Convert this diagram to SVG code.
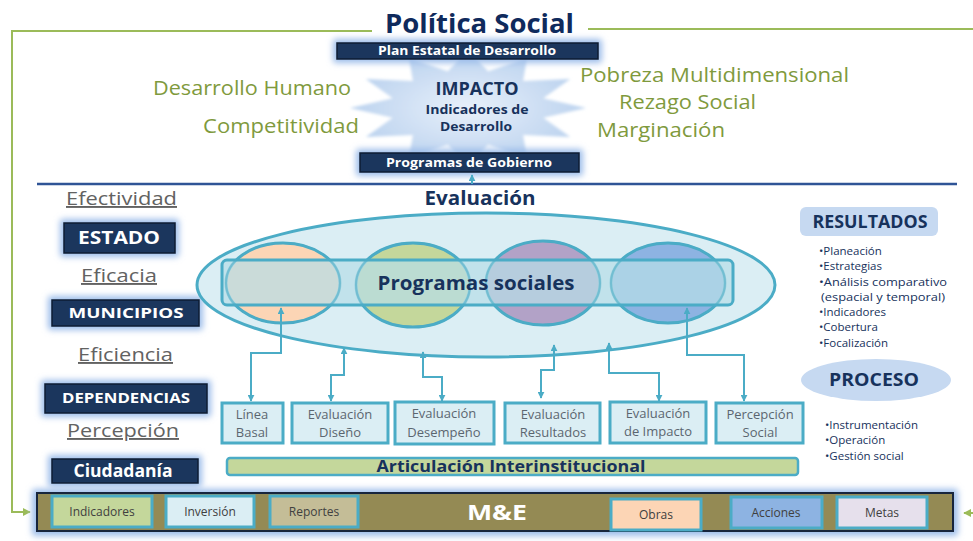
<svg xmlns="http://www.w3.org/2000/svg" width="973" height="541" viewBox="0 0 973 541">
<style>
text{font-family:"Open Sans","Liberation Sans",sans-serif}
.green{fill:#7f9a3d;font-size:20px}
.gray{fill:#626262;font-size:19px;text-decoration:underline}
.dark{fill:#1b365d;stroke:#0e1d33;stroke-width:1.5}
.halo{fill:#9dbdea;filter:url(#blur3)}
.wt{fill:#fff;font-weight:bold;text-anchor:middle}
.navy{fill:#17325c;font-weight:bold;text-anchor:middle}
.evb{fill:#dbeef4;stroke:#4bacc6;stroke-width:3}
.evt{fill:#5b6670;font-size:13px;text-anchor:middle}
.conn{fill:none;stroke:#4bacc6;stroke-width:2}
.gl{fill:none;stroke:#9bbb59;stroke-width:2}
.mb{stroke:#4bacc6;stroke-width:3}
.mt{fill:#404040;font-size:12px;text-anchor:middle}
.bul{fill:#17325c;font-size:11.5px}
.circ{stroke:#4bacc6;stroke-width:3}
</style>
<defs>
<filter id="blur3" x="-20%" y="-60%" width="140%" height="220%"><feGaussianBlur stdDeviation="3"/></filter>
<filter id="blur1" x="-10%" y="-10%" width="120%" height="120%"><feGaussianBlur stdDeviation="1.5"/></filter>
<radialGradient id="starg" cx="50%" cy="50%" r="50%"><stop offset="0" stop-color="#e8f0fa"/><stop offset="1" stop-color="#bcd3ef"/></radialGradient>
<marker id="ar" viewBox="0 0 10 10" refX="9" refY="5" markerWidth="7" markerHeight="7" markerUnits="userSpaceOnUse" orient="auto-start-reverse"><path d="M0,0 L10,5 L0,10 z" fill="#4bacc6"/></marker>
<marker id="ga" viewBox="0 0 10 10" refX="9" refY="5" markerWidth="8" markerHeight="8" markerUnits="userSpaceOnUse" orient="auto"><path d="M0,0 L10,5 L0,10 z" fill="#9bbb59"/></marker>
</defs>

<g id="frame">
<path class="gl" d="M372,31 H12 V512 H30" marker-end="url(#ga)"/>
<path class="gl" d="M588,29 H973"/>
<path class="gl" d="M973,513 H964" marker-end="url(#ga)"/>
<line x1="37" y1="184" x2="957" y2="184" stroke="#2f5496" stroke-width="2.5"/>
</g>

<g id="title"><text x="385" y="33" font-size="27" font-weight="bold" fill="#0f2a5c" textLength="189" lengthAdjust="spacingAndGlyphs">Política Social</text></g>

<g id="star">
<polygon filter="url(#blur1)" fill="url(#starg)" points="586,108 543.3,117.8 570.2,137 523.1,134.9 527,158.2 488.2,144.7 468,166 447.8,144.7 409,158.2 412.9,134.9 365.8,137 392.7,117.8 350,108 392.7,98.2 365.8,79 412.9,81.1 409,57.8 447.8,71.3 468,50 488.2,71.3 527,57.8 523.1,81.1 570.2,79 543.3,98.2"/>
<text class="navy" x="477" y="95" font-size="17" textLength="83" lengthAdjust="spacingAndGlyphs">IMPACTO</text>
<text class="navy" x="477" y="114" font-size="12.5" textLength="103" lengthAdjust="spacingAndGlyphs">Indicadores de</text>
<text class="navy" x="476" y="131" font-size="12.5" textLength="72" lengthAdjust="spacingAndGlyphs">Desarrollo</text>
</g>

<g id="plan">
<rect class="halo" x="333" y="39" width="269" height="24" rx="3"/>
<rect class="dark" x="337" y="43" width="261" height="16"/>
<text class="wt" x="467" y="55" font-size="11.5" textLength="178" lengthAdjust="spacingAndGlyphs">Plan Estatal de Desarrollo</text>
</g>

<g id="programas-gobierno">
<rect class="halo" x="356" y="149" width="227" height="27" rx="3"/>
<rect class="dark" x="360" y="153" width="219" height="19"/>
<text class="wt" x="469" y="167" font-size="12" textLength="166" lengthAdjust="spacingAndGlyphs">Programas de Gobierno</text>
</g>

<g id="labels-green">
<text class="green" x="153" y="95" textLength="198" lengthAdjust="spacingAndGlyphs">Desarrollo Humano</text>
<text class="green" x="203" y="133" textLength="156" lengthAdjust="spacingAndGlyphs">Competitividad</text>
<text class="green" x="580" y="82" textLength="269" lengthAdjust="spacingAndGlyphs">Pobreza Multidimensional</text>
<text class="green" x="619" y="109" textLength="137" lengthAdjust="spacingAndGlyphs">Rezago Social</text>
<text class="green" x="597" y="137" textLength="128" lengthAdjust="spacingAndGlyphs">Marginación</text>
</g>

<g id="left-col">
<text class="gray" x="66" y="205" textLength="111" lengthAdjust="spacingAndGlyphs">Efectividad</text>
<text class="gray" x="81" y="282" textLength="76" lengthAdjust="spacingAndGlyphs">Eficacia</text>
<text class="gray" x="78" y="361" textLength="95" lengthAdjust="spacingAndGlyphs">Eficiencia</text>
<text class="gray" x="67" y="437" textLength="112" lengthAdjust="spacingAndGlyphs">Percepción</text>
</g>
<g id="estado">
<rect class="halo" x="60" y="219" width="119" height="38" rx="3"/>
<rect class="dark" x="64" y="223" width="111" height="30"/>
<text class="wt" x="119" y="244" font-size="18" textLength="82" lengthAdjust="spacingAndGlyphs">ESTADO</text>
</g>
<g id="municipios">
<rect class="halo" x="48" y="296" width="155" height="34" rx="3"/>
<rect class="dark" x="52" y="300" width="147" height="26"/>
<text class="wt" x="126" y="318" font-size="15" textLength="115" lengthAdjust="spacingAndGlyphs">MUNICIPIOS</text>
</g>
<g id="dependencias">
<rect class="halo" x="41" y="380" width="170" height="37" rx="3"/>
<rect class="dark" x="45" y="384" width="162" height="29"/>
<text class="wt" x="126" y="403" font-size="15" textLength="128" lengthAdjust="spacingAndGlyphs">DEPENDENCIAS</text>
</g>
<g id="ciudadania">
<rect class="halo" x="48" y="455" width="154" height="32" rx="3"/>
<rect class="dark" x="52" y="459" width="146" height="24"/>
<text class="wt" x="123" y="477" font-size="17" textLength="99" lengthAdjust="spacingAndGlyphs">Ciudadanía</text>
</g>

<g id="evaluacion">
<text class="navy" x="480" y="205" font-size="19" textLength="111" lengthAdjust="spacingAndGlyphs">Evaluación</text>
<ellipse cx="486" cy="285" rx="289" ry="72" fill="#dbeef4" stroke="#4bacc6" stroke-width="3"/>
<ellipse cx="283" cy="283" rx="57" ry="40" fill="#fcd5b5" class="circ"/>
<ellipse cx="413" cy="285" rx="57" ry="42" fill="#c4d79b" class="circ"/>
<ellipse cx="543" cy="283" rx="57" ry="42" fill="#b2a2c7" class="circ"/>
<ellipse cx="668" cy="283" rx="57" ry="40" fill="#8db3e2" class="circ"/>
<rect x="222" y="260" width="511" height="45" rx="5" fill="#b7dee8" fill-opacity="0.72" stroke="#4bacc6" stroke-width="3"/>
<g fill="none" stroke="#4bacc6" stroke-width="2" stroke-opacity="0.5">
<ellipse cx="283" cy="283" rx="57" ry="40"/>
<ellipse cx="413" cy="285" rx="57" ry="42"/>
<ellipse cx="543" cy="283" rx="57" ry="42"/>
<ellipse cx="668" cy="283" rx="57" ry="40"/>
</g>
<text class="navy" x="476" y="290" font-size="19" textLength="197" lengthAdjust="spacingAndGlyphs">Programas sociales</text>
</g>

<g id="connectors">
<path class="conn" d="M472,184 V175" marker-end="url(#ar)"/>
<path class="conn" d="M281,308 V353 H251 V401" marker-start="url(#ar)" marker-end="url(#ar)"/>
<path class="conn" d="M344,348 V375 H331 V401" marker-start="url(#ar)" marker-end="url(#ar)"/>
<path class="conn" d="M423,352 V377 H442 V401" marker-start="url(#ar)" marker-end="url(#ar)"/>
<path class="conn" d="M554,345 V370 H541 V398" marker-start="url(#ar)" marker-end="url(#ar)"/>
<path class="conn" d="M609,343 V373 H659 V401" marker-start="url(#ar)" marker-end="url(#ar)"/>
<path class="conn" d="M687,308 V355 H744 V401" marker-start="url(#ar)" marker-end="url(#ar)"/>
</g>

<g id="linea-basal"><rect class="evb" x="222" y="403" width="61" height="40"/><text class="evt" x="252" y="419">Línea</text><text class="evt" x="252" y="437">Basal</text></g>
<g id="eval-diseno"><rect class="evb" x="292" y="403" width="96" height="40"/><text class="evt" x="340" y="419">Evaluación</text><text class="evt" x="340" y="437">Diseño</text></g>
<g id="eval-desempeno"><rect class="evb" x="395" y="402" width="99" height="42"/><text class="evt" x="444" y="418">Evaluación</text><text class="evt" x="444" y="437">Desempeño</text></g>
<g id="eval-resultados"><rect class="evb" x="505" y="403" width="95" height="40"/><text class="evt" x="553" y="419">Evaluación</text><text class="evt" x="553" y="437">Resultados</text></g>
<g id="eval-impacto"><rect class="evb" x="610" y="402" width="96" height="41"/><text class="evt" x="658" y="418">Evaluación</text><text class="evt" x="658" y="436">de Impacto</text></g>
<g id="percepcion-social"><rect class="evb" x="716" y="403" width="87" height="40"/><text class="evt" x="760" y="419">Percepción</text><text class="evt" x="760" y="437">Social</text></g>

<g id="articulacion">
<rect x="227" y="458" width="571" height="17" rx="3" fill="#c4d79b" stroke="#4bacc6" stroke-width="2.5"/>
<text class="navy" x="511" y="472" font-size="16" textLength="269" lengthAdjust="spacingAndGlyphs">Articulación Interinstitucional</text>
</g>

<g id="resultados">
<rect x="800" y="207" width="138" height="29" rx="6" fill="#c6d9f1"/>
<text class="navy" x="870" y="228" font-size="17" textLength="115" lengthAdjust="spacingAndGlyphs">RESULTADOS</text>
<text class="bul" x="819" y="255">•Planeación</text>
<text class="bul" x="819" y="270">•Estrategias</text>
<text class="bul" x="819" y="286" textLength="128" lengthAdjust="spacingAndGlyphs">•Análisis comparativo</text>
<text class="bul" x="821" y="301" textLength="124" lengthAdjust="spacingAndGlyphs">(espacial y temporal)</text>
<text class="bul" x="819" y="316">•Indicadores</text>
<text class="bul" x="819" y="331">•Cobertura</text>
<text class="bul" x="819" y="347">•Focalización</text>
</g>
<g id="proceso">
<ellipse cx="876" cy="380" rx="75" ry="21" fill="#c6d9f1"/>
<text class="navy" x="874" y="386" font-size="17" textLength="90" lengthAdjust="spacingAndGlyphs">PROCESO</text>
<text class="bul" x="825" y="429">•Instrumentación</text>
<text class="bul" x="825" y="444">•Operación</text>
<text class="bul" x="825" y="460">•Gestión social</text>
</g>

<g id="me">
<rect class="halo" x="32" y="489" width="926" height="47" rx="3"/>
<rect x="37" y="493" width="916" height="38" fill="#948a54" stroke="#17253d" stroke-width="2"/>
<text class="wt" x="497" y="520" font-size="22" textLength="60" lengthAdjust="spacingAndGlyphs">M&amp;E</text>
</g>
<g id="indicadores"><rect class="mb" x="52" y="496" width="100" height="31" fill="#c4d79b"/><text class="mt" x="102" y="516">Indicadores</text></g>
<g id="inversion"><rect class="mb" x="166" y="496" width="88" height="31" fill="#dbeef4"/><text class="mt" x="210" y="516">Inversión</text></g>
<g id="reportes"><rect class="mb" x="270" y="496" width="88" height="31" fill="#c4bd97"/><text class="mt" x="314" y="516">Reportes</text></g>
<g id="obras"><rect class="mb" x="611" y="499" width="90" height="31" fill="#fcd5b5"/><text class="mt" x="656" y="519">Obras</text></g>
<g id="acciones"><rect class="mb" x="731" y="497" width="91" height="31" fill="#8db3e2"/><text class="mt" x="776" y="517">Acciones</text></g>
<g id="metas"><rect class="mb" x="837" y="497" width="90" height="31" fill="#e6e0ec"/><text class="mt" x="882" y="517">Metas</text></g>
</svg>
